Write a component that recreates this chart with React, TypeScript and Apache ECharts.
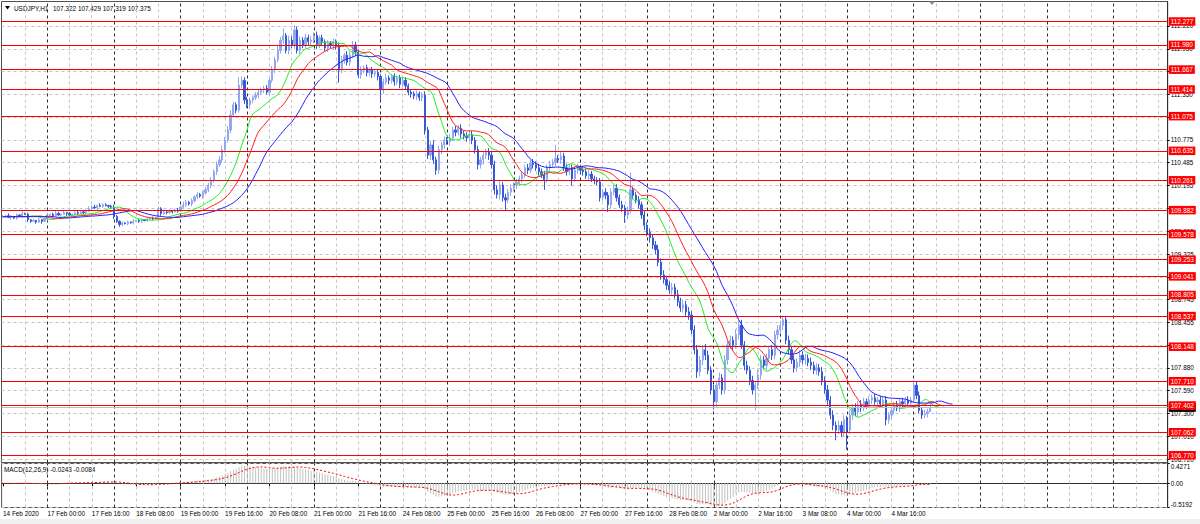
import React, { useEffect, useRef } from "react";
import * as echarts from "echarts";

// ---------------- DATA ----------------
const symbolTitle = "USDJPY,H1";
const lastBarOHLC = "107.322 107.429 107.319 107.375";
const macdTitle = "MACD(12,26,9) -0.0243 -0.0084";

// hourly closes, 14 Feb 2020 08:00 -> 5 Mar 2020 06:00
const closes = [
  109.80,109.81,109.79,109.80,109.78,109.82,109.80,109.84,109.83,109.76,
  109.74,109.75,109.73,109.76,109.74,109.77,109.82,109.83,109.81,109.84,
  109.82,109.83,109.85,109.84,109.82,109.83,109.85,109.84,109.86,109.85,
  109.87,109.90,109.92,109.91,109.94,109.93,109.95,109.94,109.93,109.92,
  109.80,109.74,109.70,109.72,109.71,109.73,109.72,109.74,109.75,109.74,
  109.76,109.75,109.77,109.78,109.77,109.79,109.90,109.84,109.86,109.85,
  109.87,109.86,109.88,109.87,109.92,109.95,109.98,109.96,110.00,110.05,
  110.08,110.06,110.10,110.14,110.20,110.26,110.37,110.46,110.52,110.65,
  110.77,110.90,111.09,111.22,111.15,111.47,111.53,111.28,111.22,111.28,
  111.31,111.34,111.38,111.41,111.43,111.38,111.53,111.66,111.79,111.91,
  112.04,112.10,111.91,112.04,111.98,112.17,111.91,112.04,111.98,112.07,
  112.02,112.04,112.10,111.98,112.07,112.02,111.94,112.00,111.98,112.02,
  111.97,111.66,111.79,111.85,111.76,111.85,111.98,111.89,111.60,111.66,
  111.69,111.63,111.66,111.61,111.63,111.58,111.41,111.51,111.56,111.53,
  111.58,111.51,111.56,111.48,111.53,111.46,111.38,111.36,111.33,111.36,
  111.31,111.34,110.90,110.58,110.71,110.52,110.39,110.65,110.71,110.77,
  110.75,110.80,110.90,110.87,110.92,110.85,110.82,110.80,110.84,110.77,
  110.65,110.46,110.52,110.58,110.62,110.58,110.46,110.14,110.08,110.20,
  110.04,110.01,110.11,110.16,110.20,110.23,110.28,110.33,110.42,110.39,
  110.48,110.46,110.42,110.37,110.33,110.27,110.42,110.46,110.49,110.54,
  110.52,110.57,110.42,110.37,110.42,110.28,110.39,110.42,110.39,110.37,
  110.32,110.34,110.28,110.26,110.24,110.04,110.11,110.07,109.95,110.11,
  110.16,110.04,109.95,109.91,109.82,109.88,110.14,110.07,110.01,109.95,
  109.82,109.69,109.60,109.53,109.44,109.38,109.22,109.06,109.00,108.93,
  108.87,108.90,108.81,108.72,108.64,108.68,108.59,108.55,108.36,108.11,
  107.83,107.98,108.11,108.04,107.85,107.60,107.45,107.66,107.75,107.60,
  107.98,108.17,108.23,108.17,108.30,108.42,108.17,107.91,107.85,107.72,
  107.60,107.66,107.79,107.98,107.91,108.00,108.11,108.04,108.30,108.36,
  108.42,108.49,108.23,108.11,107.98,107.88,107.95,108.04,107.98,108.00,
  107.95,107.91,107.85,107.88,107.83,107.72,107.60,107.47,107.28,107.15,
  107.09,107.15,107.06,107.22,107.09,107.28,107.37,107.32,107.41,107.37,
  107.45,107.41,107.47,107.50,107.45,107.47,107.42,107.47,107.22,107.28,
  107.34,107.41,107.37,107.45,107.42,107.47,107.43,107.47,107.66,107.53,
  107.34,107.28,107.30,107.322,107.375,
];
const firstOpen = 109.79;

// upper / lower wick lengths per bar, in hundredths (base-36 digits)
const wickUp = [
  "2132121312","1212132123","2131212312","2323132212","3212121312",
  "2121213232","2123243232","3234343455","45643a5443","3433343546",
  "4936564545","4545343434","3453545435","3434343453","3434343434",
  "3454564545","4545454545","4545454565","4545454545","454545454h",
  "4545444545","4544454545","454545m445","4545456565","5656565656",
  "6567656575","6565767565","6576565656","6556565656","5656565656",
  "5656565656","5454545454","5454545465","54545",
].join("");
const wickDown = [
  "1213121213","2121312121","1213121212","2121312121","3232121212",
  "2121212322","1212123232","3232343434","4343434545","4343434343",
  "4545454545","4545454545","5g45454545","454545d545","4545454545",
  "4565656565","4545454545","5656565656","5d45454545","45454d4545",
  "4545494545","4545454595","4545a54545","5656565656","5656565656",
  "867656a656","5656565656","6q56565656","5656565656","5656565656",
  "d565p56565","4545454575","4545454545","45450",
].join("");

const xTickLabels = [
  "14 Feb 2020","17 Feb 00:00","17 Feb 16:00","18 Feb 08:00","19 Feb 00:00",
  "19 Feb 16:00","20 Feb 08:00","21 Feb 00:00","21 Feb 16:00","24 Feb 08:00",
  "25 Feb 00:00","25 Feb 16:00","26 Feb 08:00","27 Feb 00:00","27 Feb 16:00",
  "28 Feb 08:00","2 Mar 00:00","2 Mar 16:00","3 Mar 08:00","4 Mar 00:00",
  "4 Mar 16:00",
];
const priceTicks = [
  106.72,107.01,107.3,107.59,107.88,108.165,108.455,108.745,109.035,109.325,
  109.615,109.905,110.195,110.485,110.775,111.065,111.35,111.64,111.93,112.22,
];
const levelLines = [
  112.277,111.98,111.667,111.414,111.075,110.635,110.261,109.882,109.578,
  109.253,109.041,108.805,108.537,108.148,107.71,107.402,107.062,106.77,
];
const bidPrice = 107.375;
const macdScale = [-0.5192, 0, 0.4271];

// ---------------- LAYOUT ----------------
const SLOTS = 420;
const FONT = "Liberation Sans";
const FS = 6.4;
const GL = 1.5;
const GR = 32.3;
const PRICE_MIN = 106.678;
const PRICE_MAX = 112.531;

// ---------------- DERIVED ----------------
const N = closes.length;
const cats = Array.from({ length: SLOTS }, (_, i) => "b" + i);
const opens = closes.map((c, i) => (i === 0 ? firstOpen : closes[i - 1]));
const ups = wickUp.split("").map((ch) => parseInt(ch, 36) / 100);
const dns = wickDown.split("").map((ch) => parseInt(ch, 36) / 100);
const highs = closes.map((c, i) => +(Math.max(opens[i], c) + ups[i]).toFixed(3));
const lows = closes.map((c, i) => +(Math.min(opens[i], c) - dns[i]).toFixed(3));
const candleData = closes.map((c, i) => [opens[i], c, lows[i], highs[i]]);
const median = highs.map((h, i) => (h + lows[i]) / 2);

function smmaShifted(period: number, shift: number) {
  const out: (number | null)[] = new Array(SLOTS).fill(null);
  let s = median[0];
  for (let j = 0; j < shift; j++) out[j] = +s.toFixed(4);
  for (let i = 0; i < N; i++) {
    if (i > 0) s = (s * (period - 1) + median[i]) / period;
    out[i + shift] = +s.toFixed(4);
  }
  return out;
}
const jaw = smmaShifted(13, 8);
const teeth = smmaShifted(8, 5);
const lips = smmaShifted(5, 3);

function ema(p: number) {
  const k = 2 / (p + 1);
  let e = closes[0];
  return closes.map((c, i) => (e = i === 0 ? c : e + k * (c - e)));
}
const e12 = ema(12);
const e26 = ema(26);
const macdMain = closes.map((_, i) => +(e12[i] - e26[i]).toFixed(4));
const macdSignal = macdMain.map((_, i) => {
  const from = Math.max(0, i - 8);
  const seg = macdMain.slice(from, i + 1);
  return +(seg.reduce((a, b) => a + b, 0) / seg.length).toFixed(4);
});

const showTick = (idx: number) => idx % 16 === 0 && idx / 16 < xTickLabels.length;

function verticalGridLines() {
  const items: any[] = [];
  for (let idx = 8; idx < SLOTS; idx += 8) {
    const day = idx % 24 === 16;
    items.push({
      xAxis: cats[idx],
      lineStyle: day
        ? { color: "#303030", width: 1, type: [3, 3] }
        : { color: "#c4c4c4", width: 1, type: [3, 3] },
    });
  }
  return items;
}

export default function App() {
  const ref = useRef<HTMLDivElement>(null);
  useEffect(() => {
    if (!ref.current) return;
    const chart = echarts.init(ref.current, undefined, { renderer: "svg" });
    const gridMark = {
      silent: true,
      symbol: ["none", "none"],
      z: 1,
      label: { show: false },
      data: verticalGridLines(),
    };
    const levelLabel = {
      show: true,
      position: "end",
      distance: 1,
      formatter: (p: any) => Number(p.value).toFixed(3),
      color: "#ffffff",
      backgroundColor: "#ff0000",
      fontSize: FS,
      fontFamily: FONT,
      padding: [1.5, 2, 1, 2],
    };
    const option: any = {
      animation: false,
      backgroundColor: "#ffffff",
      textStyle: { fontFamily: FONT },
      grid: [
        { left: GL, right: GR, top: 1.5, height: 461, show: true, borderColor: "#505050", borderWidth: 1 },
        { left: GL, right: GR, top: 463.5, height: 44, show: true, borderColor: "#505050", borderWidth: 1 },
      ],
      xAxis: [
        {
          type: "category", gridIndex: 0, data: cats, boundaryGap: true,
          axisLine: { show: false }, axisTick: { show: false }, axisLabel: { show: false }, splitLine: { show: false },
        },
        {
          type: "category", gridIndex: 1, data: cats, boundaryGap: true,
          axisLine: { show: true, lineStyle: { color: "#303030" } },
          axisTick: { show: true, alignWithLabel: true, interval: showTick, length: 3, lineStyle: { color: "#000" } },
          axisLabel: {
            interval: showTick,
            formatter: (_v: string, idx: number) => xTickLabels[idx / 16] || "",
            align: "left", margin: 3, fontSize: FS, color: "#000", fontFamily: FONT,
          },
          splitLine: { show: false },
        },
      ],
      yAxis: [
        {
          type: "value", gridIndex: 0, position: "right", min: PRICE_MIN, max: PRICE_MAX,
          axisLine: { show: true, lineStyle: { color: "#303030" } },
          axisTick: { show: true, length: 2, customValues: priceTicks, lineStyle: { color: "#000" } },
          axisLabel: {
            show: true, customValues: priceTicks, formatter: (v: number) => v.toFixed(3),
            fontSize: FS, color: "#000", margin: 3, fontFamily: FONT,
          },
          splitLine: { show: true, customValues: priceTicks, lineStyle: { color: "#c4c4c4", type: [3, 3], width: 1 } },
        },
        {
          type: "value", gridIndex: 1, position: "right", min: macdScale[0], max: macdScale[2],
          axisLine: { show: true, lineStyle: { color: "#303030" } },
          axisTick: { show: true, length: 2, customValues: macdScale, lineStyle: { color: "#000" } },
          axisLabel: {
            show: true, customValues: macdScale,
            formatter: (v: number) => (Math.abs(v) < 1e-9 ? "0.00" : v.toFixed(4)),
            verticalAlignMaxLabel: "top", verticalAlignMinLabel: "bottom",
            fontSize: FS, color: "#000", margin: 3, fontFamily: FONT,
          },
          splitLine: { show: true, customValues: [0], lineStyle: { color: "#c4c4c4", type: [3, 3], width: 1 } },
        },
      ],
      series: [
        {
          name: "gridMain", type: "line", xAxisIndex: 0, yAxisIndex: 0, data: [], silent: true,
          showSymbol: false, z: 1, markLine: gridMark,
        },
        {
          name: "USDJPY", type: "candlestick", xAxisIndex: 0, yAxisIndex: 0, data: candleData,
          barWidth: 1.7, z: 2,
          itemStyle: { color: "#93a7ee", color0: "#3559d6", borderColor: "#93a7ee", borderColor0: "#3559d6", borderWidth: 1 },
        },
        {
          name: "Lips", type: "line", xAxisIndex: 0, yAxisIndex: 0, data: lips, showSymbol: false, z: 3,
          lineStyle: { color: "#22ee22", width: 1 }, silent: true,
        },
        {
          name: "Teeth", type: "line", xAxisIndex: 0, yAxisIndex: 0, data: teeth, showSymbol: false, z: 3,
          lineStyle: { color: "#ff2222", width: 1 }, silent: true,
        },
        {
          name: "Jaw", type: "line", xAxisIndex: 0, yAxisIndex: 0, data: jaw, showSymbol: false, z: 3,
          lineStyle: { color: "#2222ff", width: 1 }, silent: true,
        },
        {
          name: "levels", type: "line", xAxisIndex: 0, yAxisIndex: 0, data: [], silent: true, showSymbol: false, z: 4,
          markLine: {
            silent: true, symbol: ["none", "none"], z: 6, precision: 3,
            lineStyle: { color: "#ff0000", width: 1, type: "solid" },
            label: levelLabel,
            data: [
              {
                yAxis: bidPrice,
                lineStyle: { color: "#bdbdbd", width: 1, type: "solid" },
                label: { ...levelLabel, backgroundColor: "#000000" },
              },
              ...levelLines.map((v) => ({ yAxis: v })),
            ],
          },
        },
        {
          name: "gridMacd", type: "line", xAxisIndex: 1, yAxisIndex: 1, data: [], silent: true,
          showSymbol: false, z: 1, markLine: gridMark,
        },
        {
          name: "MACD", type: "bar", xAxisIndex: 1, yAxisIndex: 1, data: macdMain, barWidth: 1, z: 2,
          itemStyle: { color: "#c0c0c0" }, silent: true,
        },
        {
          name: "Signal", type: "line", xAxisIndex: 1, yAxisIndex: 1, data: macdSignal, showSymbol: false, z: 3,
          lineStyle: { color: "#ff0000", width: 1, type: [2, 2] }, silent: true,
        },
      ],
      graphic: [
        { type: "polygon", shape: { points: [[5, 6], [10, 6], [7.5, 9.5]] }, style: { fill: "#000" }, silent: true },
        {
          type: "text", x: 14, y: 8,
          style: { text: symbolTitle, fontSize: FS, fontFamily: FONT, fill: "#000", verticalAlign: "middle" },
        },
        {
          type: "text", x: 53, y: 8,
          style: { text: lastBarOHLC, fontSize: FS, fontFamily: FONT, fill: "#000", verticalAlign: "middle" },
        },
        {
          type: "text", x: 4, y: 469,
          style: { text: macdTitle, fontSize: FS, fontFamily: FONT, fill: "#000", verticalAlign: "middle" },
        },
        { type: "polygon", shape: { points: [[929, 1.5], [935, 1.5], [932, 5]] }, style: { fill: "#909090" }, silent: true },
        { type: "rect", shape: { x: 0, y: 519, width: 1200, height: 5 }, style: { fill: "#f0f0f0" }, silent: true },
      ],
    };
    chart.setOption(option);
    return () => chart.dispose();
  }, []);
  return (
    <div
      ref={ref}
      style={{ position: "absolute", left: 0, top: 0, width: 1200, height: 524, background: "#fff" }}
    />
  );
}
